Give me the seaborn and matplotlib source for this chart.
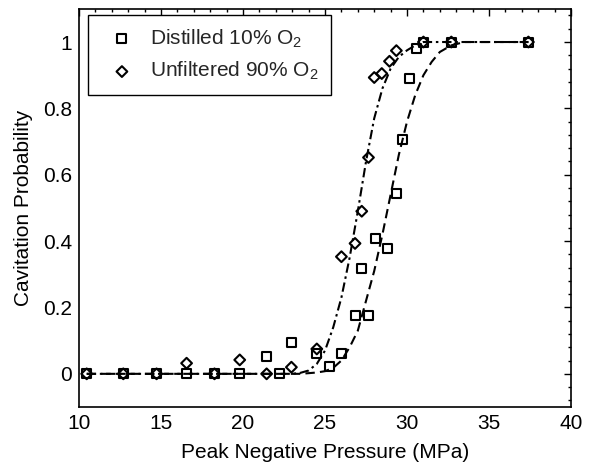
import numpy as np
import pandas as pd
import matplotlib
matplotlib.use("Agg")
import matplotlib.pyplot as plt
from matplotlib.ticker import MultipleLocator, FuncFormatter
import seaborn as sns

# ---- data ----
dist_x = [10.47, 12.7, 14.73, 16.56, 18.26, 19.8, 21.44, 22.2, 22.95, 24.5, 25.26,
          26.03, 26.83, 27.24, 27.65, 28.05, 28.8, 29.33, 29.72, 30.14, 30.55,
          31.0, 32.7, 37.4]
dist_y = [0, 0, 0, 0, 0, 0, 0.052, 0, 0.093, 0.062, 0.023,
          0.062, 0.175, 0.317, 0.175, 0.407, 0.377, 0.544, 0.705, 0.89, 0.981,
          1.0, 1.0, 1.0]

unf_x = [10.47, 12.7, 14.73, 16.56, 18.26, 19.8, 21.44, 22.95, 24.5, 26.0,
         26.83, 27.24, 27.65, 28.0, 28.46, 28.93, 29.35, 31.0, 32.7, 37.4]
unf_y = [0, 0, 0, 0.032, 0, 0.042, 0, 0.02, 0.075, 0.353,
         0.393, 0.49, 0.652, 0.893, 0.905, 0.942, 0.974, 1.0, 1.0, 1.0]

# fitted curves, points
fit_dist_x = [10.47, 23.5, 24.5, 25.0, 25.5, 26.0, 26.5, 27.0, 27.5, 28.0, 28.5,
              29.0, 29.5, 30.0, 30.5, 31.0, 31.5, 32.0, 32.7, 33.5, 37.4]
fit_dist_y = [0, 0, 0.004, 0.008, 0.018, 0.04, 0.08, 0.13, 0.22, 0.31, 0.42,
              0.54, 0.66, 0.76, 0.84, 0.90, 0.94, 0.97, 0.99, 1.0, 1.0]

fit_unf_x = [10.47, 23.0, 23.5, 24.0, 24.5, 25.0, 25.5, 26.0, 26.5, 27.0, 27.5,
             28.0, 28.5, 29.0, 29.5, 30.0, 30.5, 31.0, 37.4]
fit_unf_y = [0, 0, 0.003, 0.01, 0.03, 0.07, 0.14, 0.23, 0.35, 0.49, 0.64,
             0.77, 0.86, 0.92, 0.955, 0.975, 0.99, 1.0, 1.0]

legend_labels = ["Distilled 10% O$_2$", "Unfiltered 90% O$_2$"]

sns.set_theme(style="white")
plt.rcParams["font.family"] = ["Liberation Sans", "DejaVu Sans"]
plt.rcParams["mathtext.fontset"] = "custom"
plt.rcParams["mathtext.rm"] = "Liberation Sans"
plt.rcParams["mathtext.it"] = "Liberation Sans:italic"

FS = 15

fig = plt.figure(figsize=(6.03, 4.65), dpi=100)
ax = fig.add_axes([0.131, 0.1247, 0.816, 0.8563])

sns.lineplot(x=fit_dist_x, y=fit_dist_y, ax=ax, color="black", lw=1.5,
             linestyle=(0, (4.5, 2.5)), sort=False, legend=False)
sns.lineplot(x=fit_unf_x, y=fit_unf_y, ax=ax, color="black", lw=1.5,
             linestyle=(0, (4.5, 1.8, 1.2, 1.8)), sort=False, legend=False)

ax.scatter(dist_x, dist_y, marker="s", s=42, facecolors="none",
           edgecolors="black", linewidths=1.5, label=legend_labels[0], zorder=3)
ax.scatter(unf_x, unf_y, marker="D", s=30, facecolors="none",
           edgecolors="black", linewidths=1.5, label=legend_labels[1], zorder=3)

ax.set_xlim(10, 40)
ax.set_ylim(-0.1, 1.1)
ax.xaxis.set_major_locator(MultipleLocator(5))
ax.xaxis.set_minor_locator(MultipleLocator(1))
ax.yaxis.set_major_locator(MultipleLocator(0.2))
ax.yaxis.set_minor_locator(MultipleLocator(0.04))
ax.yaxis.set_major_formatter(FuncFormatter(lambda v, p: f"{v:g}" if abs(v) > 1e-9 else "0"))

ax.tick_params(which="both", direction="in", top=True, right=True,
               labelsize=FS, colors="black", width=1)
ax.tick_params(which="major", length=5, pad=5)
ax.tick_params(which="minor", length=2.5)
for s in ax.spines.values():
    s.set_color("black")
    s.set_linewidth(1.2)

ax.set_xlabel("Peak Negative Pressure (MPa)", fontsize=FS, color="black", labelpad=7)
ax.set_ylabel("Cavitation Probability", fontsize=FS, color="black", labelpad=7)

leg = ax.legend(loc="upper left", bbox_to_anchor=(0.018, 0.985), borderaxespad=0,
                fontsize=FS, frameon=True, fancybox=False, edgecolor="black",
                framealpha=1, handletextpad=0.31, borderpad=0.6, labelspacing=0.5,
                handlelength=2.07)
leg.get_frame().set_linewidth(1.0)

fig.savefig("out.png", dpi=100)
